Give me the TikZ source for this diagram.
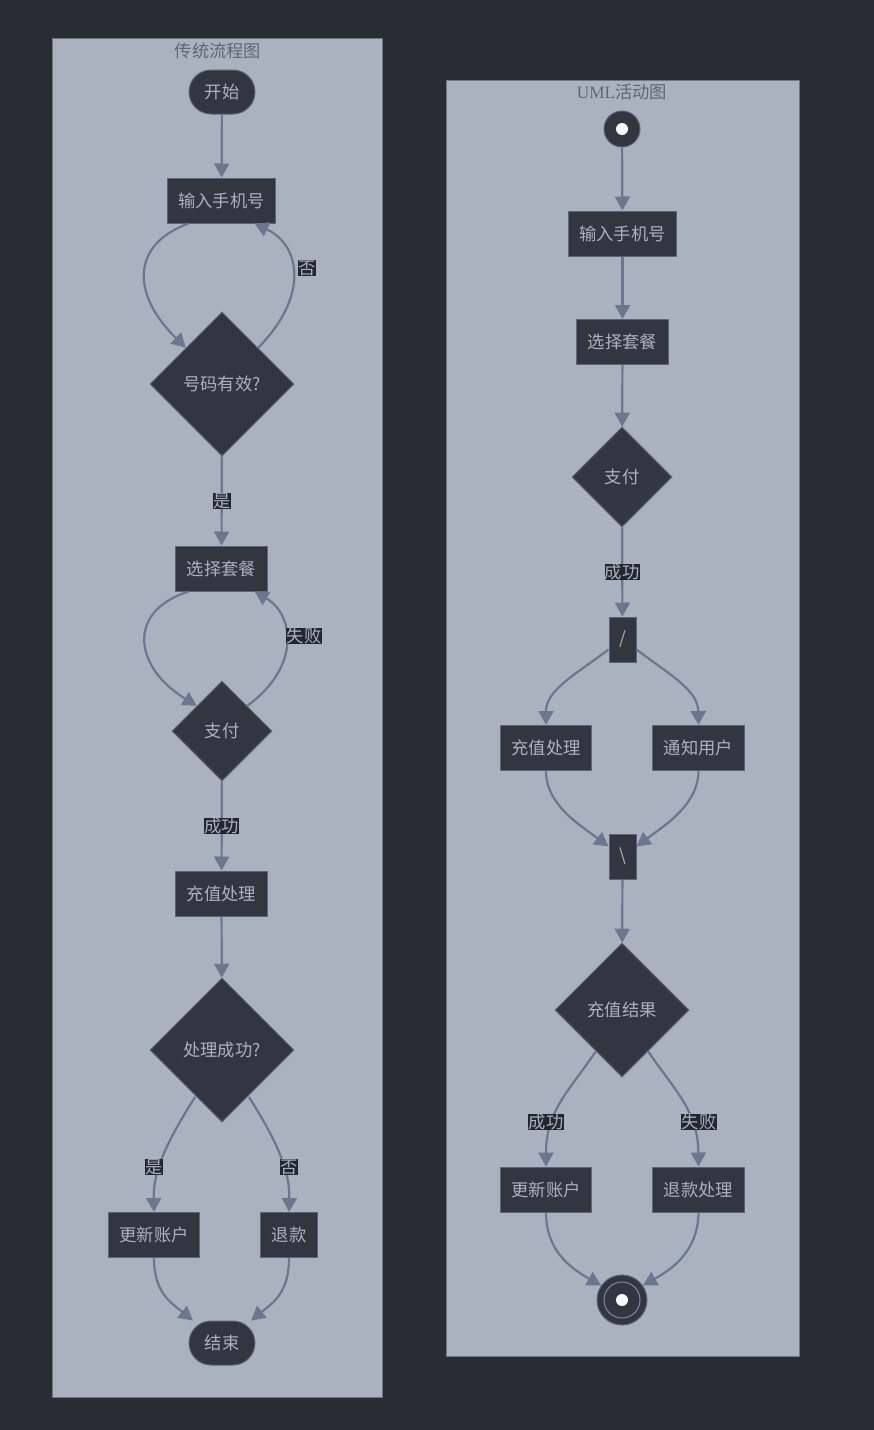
\documentclass[tikz,border=0pt]{standalone}
\usepackage{fontspec}
\setmainfont{Noto Sans CJK SC}
\newfontfamily\umlfont{Liberation Serif}
\usetikzlibrary{shapes.geometric,arrows.meta,calc}
\definecolor{bgc}{HTML}{282C34}
\definecolor{clfill}{HTML}{ABB2BF}
\definecolor{clborder}{HTML}{6E7689}
\definecolor{nfill}{HTML}{333641}
\definecolor{nborder}{HTML}{5A6379}
\definecolor{edgec}{HTML}{6C7691}
\definecolor{txtc}{HTML}{ABB2BF}
\definecolor{titlec}{HTML}{5F6675}
\definecolor{lblbg}{HTML}{23262E}
\tikzset{
  x=1pt, y=-1pt,
  basefont/.style={font=\fontsize{17.3pt}{20pt}\selectfont},
  box/.style={basefont, rectangle, draw=nborder, fill=nfill, text=txtc, line width=1pt,
    inner xsep=11pt, inner ysep=0pt, minimum height=45pt},
  stad/.style={basefont, rectangle, rounded corners=22pt, draw=nborder, fill=nfill, text=txtc,
    line width=1pt, minimum width=66pt, minimum height=44pt},
  dia/.style={basefont, diamond, aspect=1, draw=nborder, fill=nfill, text=txtc, line width=1pt,
    inner sep=0pt},
  bar/.style={basefont, rectangle, draw=nborder, fill=nfill, text=txtc, line width=1pt,
    minimum width=27pt, minimum height=45pt, inner sep=0pt},
  edge/.style={draw=edgec, line width=2.2pt, -{Triangle[length=14pt,width=15pt]}},
  lbl/.style={basefont, fill=lblbg, text=txtc, inner sep=0.3pt},
  cluster/.style={draw=clborder, fill=clfill, line width=1pt},
  ctitle/.style={basefont, text=titlec},
}
\begin{document}
\begin{tikzpicture}
\useasboundingbox (0,0) rectangle (874,1430);
\fill[bgc] (0,0) rectangle (874,1430);
% clusters
\draw[cluster] (52,38) rectangle (382,1397);
\node[ctitle] (t1) at (218,51) {传统流程图};
\draw[cluster] (446,80) rectangle (799,1356);
\node[ctitle] (t2) at (622,92) {{\umlfont UML}活动图};

% left nodes
\node[stad] (s1) at (222,92) {开始};
\node[box] (in1) at (221.5,200.5) {输入手机号};
\node[dia, minimum width=144pt, minimum height=144pt] (v1) at (222,384) {号码有效?};
\node[box] (sel1) at (221.5,568.5) {选择套餐};
\node[dia, minimum width=100pt, minimum height=100pt] (pay1) at (222,731) {支付};
\node[box] (chg1) at (221.5,893.5) {充值处理};
\node[dia, minimum width=144pt, minimum height=144pt] (ok1) at (222,1050) {处理成功?};
\node[box] (upd1) at (154,1235) {更新账户};
\node[box] (ref1) at (289,1235) {退款};
\node[stad] (e1) at (222,1343) {结束};

% left edges
\draw[edge] (s1) -- (in1);
\draw[edge] ([xshift=-33pt]in1.south) .. controls (130,245) and (132,295) .. (v1.north west);
\draw[edge] (v1.north east) .. controls (310,295) and (300,245) .. ([xshift=33pt]in1.south);
\node[lbl] (l1) at (307,268) {否};
\draw[edge] (v1) -- (sel1) node[lbl, pos=0.5] (l2) {是};
\draw[edge] ([xshift=-33pt]sel1.south) .. controls (125,612) and (135,668) .. (pay1.north west);
\draw[edge] (pay1.north east) .. controls (300,668) and (295,615) .. ([xshift=33pt]sel1.south);
\node[lbl] (l3) at (304,636) {失败};
\draw[edge] (pay1) -- (chg1) node[lbl, pos=0.5] (l4) {成功};
\draw[edge] (chg1) -- (ok1);
\draw[edge] ($(ok1)+(-27,47)$) .. controls (168,1140) and (153,1170) .. (upd1.north);
\node[lbl] (l5) at (154,1167) {是};
\draw[edge] ($(ok1)+(27,47)$) .. controls (276,1140) and (290,1170) .. (ref1.north);
\node[lbl] (l6) at (289,1167) {否};
\draw[edge] (upd1.south) .. controls (154,1292) and (170,1302) .. ([xshift=-29pt]e1.north);
\draw[edge] (ref1.south) .. controls (289,1292) and (274,1302) .. ([xshift=29pt]e1.north);

% right nodes
\node[circle, draw=nborder, fill=nfill, line width=1pt, minimum size=36pt, inner sep=0pt] (st) at (622,129) {};
\fill[white!92!clfill] (st.center) circle (6pt);
\node[box] (in2) at (622.5,233.5) {输入手机号};
\node[box] (sel2) at (622.5,342) {选择套餐};
\node[dia, minimum width=100pt, minimum height=100pt] (pay2) at (622,477) {支付};
\node[bar] (fork) at (622.5,639.5) {/};
\node[box] (chg2) at (546,748) {充值处理};
\node[box] (ntf) at (698.5,748) {通知用户};
\node[bar] (join) at (622.5,856.5) {\textbackslash};
\node[dia, minimum width=134pt, minimum height=134pt] (res) at (622,1010) {充值结果};
\node[box] (upd2) at (546,1189.5) {更新账户};
\node[box] (ref2) at (698.5,1189.5) {退款处理};
\node[circle, draw=nborder, fill=nfill, line width=1pt, minimum size=50pt, inner sep=0pt] (endc) at (622,1300) {};
\draw[edgec!70!clfill, line width=1pt] (endc.center) circle (18pt);
\fill[white!92!clfill] (endc.center) circle (6pt);

% right edges
\draw[edge] (st) -- (in2);
\draw[edge] (in2) -- (sel2);
\draw[edge] (sel2) -- (pay2);
\draw[edge] (pay2) -- (fork) node[lbl, pos=0.5] (l7) {成功};
\draw[edge] ($(fork.west)+(0,10)$) .. controls (575,675) and (546,690) .. (chg2.north);
\draw[edge] ($(fork.east)+(0,10)$) .. controls (670,675) and (698,690) .. (ntf.north);
\draw[edge] (chg2.south) .. controls (546,805) and (580,825) .. ($(join.west)+(0,-10)$);
\draw[edge] (ntf.south) .. controls (698,805) and (665,825) .. ($(join.east)+(0,-10)$);
\draw[edge] (join) -- (res);
\draw[edge] ($(res)+(-26,41)$) .. controls (570,1090) and (546,1110) .. (upd2.north);
\node[lbl] (l8) at (546,1122) {成功};
\draw[edge] ($(res)+(26,41)$) .. controls (674,1090) and (698,1110) .. (ref2.north);
\node[lbl] (l9) at (699,1122) {失败};
\draw[edge] (upd2.south) .. controls (546,1250) and (570,1268) .. (endc.145);
\draw[edge] (ref2.south) .. controls (698,1250) and (674,1268) .. (endc.35);
\end{tikzpicture}
\end{document}
